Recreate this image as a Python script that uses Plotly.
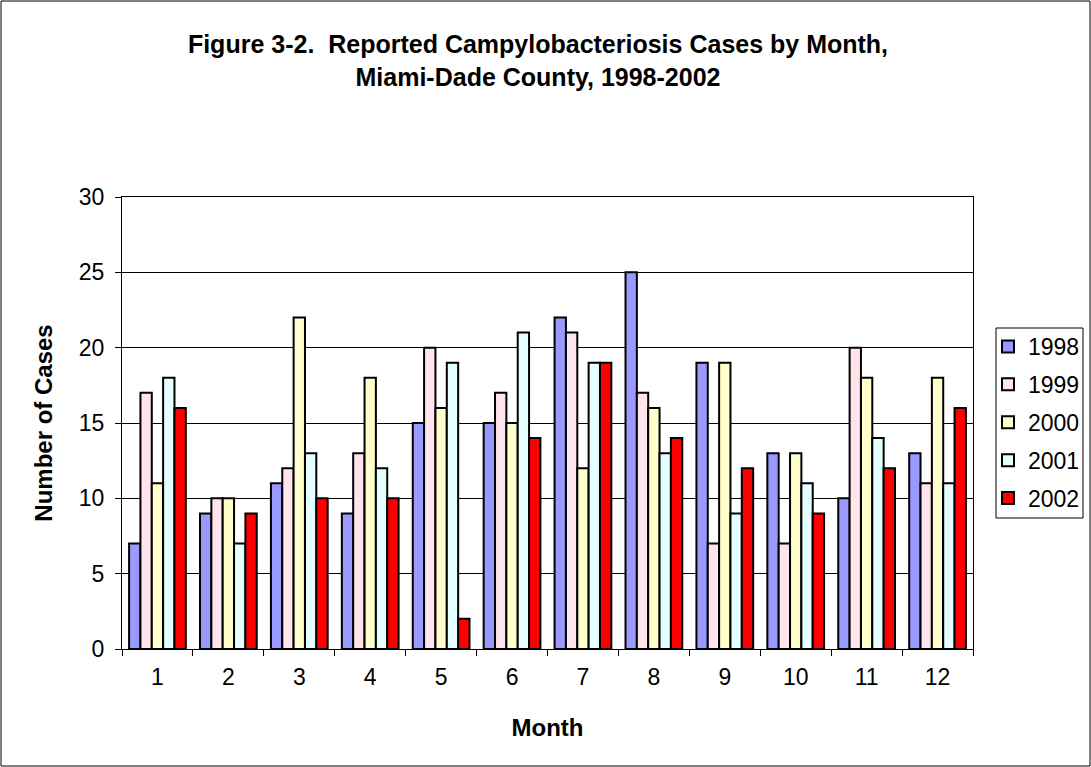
import plotly.graph_objects as go

##############################################################
# Data
##############################################################

months = ["1", "2", "3", "4", "5", "6", "7", "8", "9", "10", "11", "12"]

cases_1998 = [7, 9, 11, 9, 15, 15, 22, 25, 19, 13, 10, 13]
cases_1999 = [17, 10, 12, 13, 20, 17, 21, 17, 7, 7, 20, 11]
cases_2000 = [11, 10, 22, 18, 16, 15, 12, 16, 19, 13, 18, 18]
cases_2001 = [18, 7, 13, 12, 19, 21, 19, 13, 9, 11, 14, 11]
cases_2002 = [16, 9, 10, 10, 2, 14, 19, 14, 12, 9, 12, 16]

years = ["1998", "1999", "2000", "2001", "2002"]
colors = ["#9999FF", "#FFE4EC", "#FFFFCC", "#E4FFFF", "#FF0000"]

series = [cases_1998, cases_1999, cases_2000, cases_2001, cases_2002]

##############################################################
# Figure
##############################################################

W, H = 1091, 767
L, R, T, B = 122, 118, 197, 118

fig = go.Figure()

for name, vals, col in zip(years, series, colors):
    fig.add_trace(
        go.Bar(
            x=months,
            y=vals,
            name=name,
            legendgroup=name,
            marker=dict(color=col, line=dict(color="black", width=2)),
        )
    )

pw = W - L - R
ph = H - T - B

fig.update_layout(
    width=W,
    height=H,
    barmode="group",
    bargap=0.2,
    bargroupgap=0,
    plot_bgcolor="white",
    paper_bgcolor="white",
    font=dict(family="Liberation Sans, Arial, sans-serif", size=23, color="black"),
    margin=dict(l=L, r=R, t=T, b=B, autoexpand=False),
    title=dict(
        text="<b>Figure 3-2.  Reported Campylobacteriosis Cases by Month,<br>Miami-Dade County, 1998-2002</b>",
        x=(538 - L) / pw,
        xref="paper",
        xanchor="center",
        y=1 - 53 / H,
        yanchor="top",
        font=dict(size=25),
    ),
    legend=dict(
        x=(988 - L) / pw,
        y=(H - B - 325) / ph,
        xanchor="left",
        yanchor="top",
        borderwidth=0,
        bgcolor="rgba(0,0,0,0)",
        font=dict(size=23),
        tracegroupgap=5,
        itemsizing="constant",
    ),
    showlegend=True,
)

fig.update_xaxes(
    title=dict(text="<b>Month</b>", font=dict(size=24), standoff=30),
    showline=True,
    linecolor="black",
    linewidth=1,
    mirror=True,
    ticks="outside",
    tickson="boundaries",
    ticklen=6,
    tickcolor="black",
    tickfont=dict(size=23),
    ticklabelstandoff=7,
)

fig.update_yaxes(
    title=dict(text="<b>Number of Cases</b>", font=dict(size=24), standoff=19),
    range=[0, 30],
    dtick=5,
    showgrid=True,
    gridcolor="black",
    gridwidth=1,
    showline=True,
    linecolor="black",
    linewidth=1,
    mirror=True,
    ticks="outside",
    ticklen=6,
    tickcolor="black",
    tickfont=dict(size=23),
    ticklabelstandoff=6,
    zeroline=False,
)

# legend box
fig.add_shape(
    type="rect",
    xref="paper",
    yref="paper",
    x0=(996 - L) / pw,
    x1=(1083 - L) / pw,
    y0=(H - B - 518) / ph,
    y1=(H - B - 328) / ph,
    line=dict(color="black", width=1),
    fillcolor="white",
    layer="below",
)

# outer border around the whole chart
fig.add_shape(
    type="rect",
    xref="paper",
    yref="paper",
    x0=-(L - 1) / pw,
    x1=1 + (R - 1) / pw,
    y0=-(B - 1) / ph,
    y1=1 + (T - 1) / ph,
    line=dict(color="black", width=1),
    fillcolor="rgba(0,0,0,0)",
    layer="below",
)

fig.write_html(
    "out.html",
    config={"displayModeBar": False},
    post_script="document.body.style.margin='0';document.body.style.overflow='hidden';",
)
